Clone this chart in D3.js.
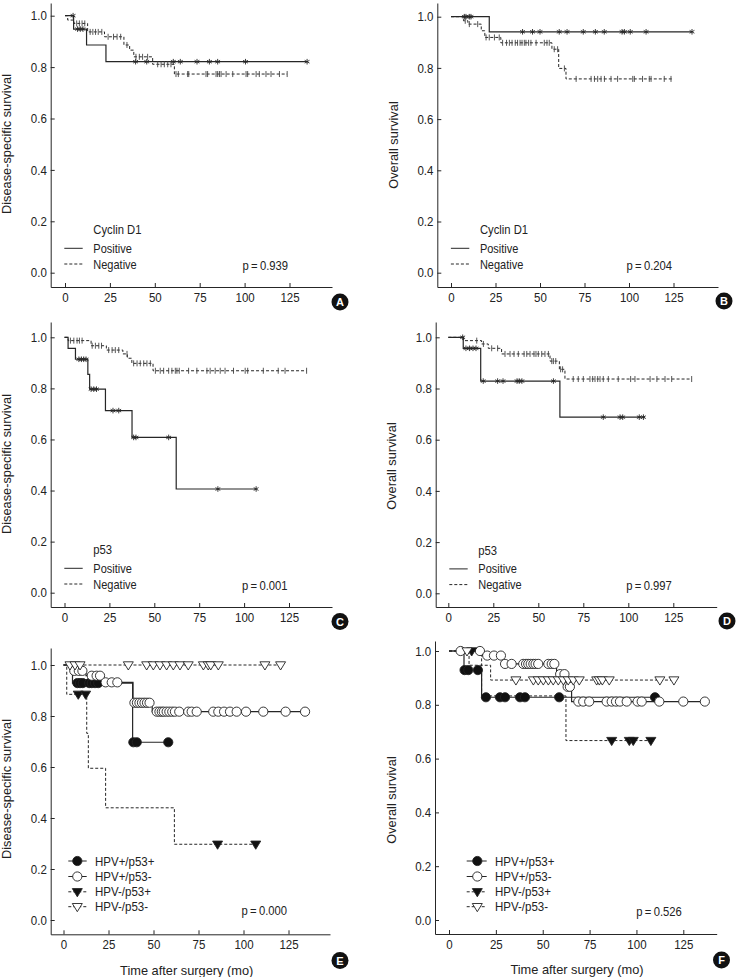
<!DOCTYPE html>
<html><head><meta charset="utf-8">
<script src="https://cdn.jsdelivr.net/npm/d3@7"></script>
<style>
body{margin:0;background:#fff}
svg{display:block}
text{font-family:"Liberation Sans",Arial,Helvetica,sans-serif;fill:#222}
</style></head>
<body><svg id="c" width="738" height="977"></svg>
<script>
// ---------------- DATA ----------------
const xTicks = [0, 25, 50, 75, 100, 125];
const yTicks = [0, 0.2, 0.4, 0.6, 0.8, 1.0];

// Panel A: Cyclin D1, disease-specific survival
const posA_steps = [[0,1],[4.8,0.948],[12,0.886],[22.8,0.821]];
const posA_end = 134.8;
const posA_cens = [4.5,7,8.5,10,39.3,45.5,60.3,64.2,73.5,80.4,85,100.5,134.8];
const negA_steps = [[0,1],[1.5,0.983],[5,0.970],[12.6,0.937],[22,0.918],[32.8,0.886],[36,0.866],[38.3,0.840],[48.8,0.811],[60.9,0.773]];
const negA_end = 123.7;
const negA_cens = [6.5,8,9.5,11,14,15.5,17,18.5,20.5,24,27,29,31,34.5,39.5,41.4,43.2,46,51.6,53.5,55.3,57.2,59,61.8,63.1,68.3,68.9,78.5,79.4,84.1,85,86,86.9,89.7,93.4,100.8,101.7,106.4,108.2,111.9,114.7,119.4,123.7];

// Panel B: Cyclin D1, overall survival
const posB_steps = [[0,1],[21.5,0.941]];
const posB_end = 135.4;
const posB_cens = [7.5,8.4,10.3,11.2,40.2,45.8,50,60.8,65.2,74.3,81.1,86.1,96.1,97.4,100.7,109.6,135.4];
const negB_steps = [[0,1],[7,0.984],[9.5,0.971],[17,0.945],[19,0.919],[28,0.898],[56.7,0.873],[60.5,0.798],[64.6,0.757]];
const negB_end = 124;
const negB_cens = [8,10.3,15,19.7,21.5,24.4,27.1,29,31.2,32.8,34.3,36.1,37.4,38.8,39.9,41.2,42.1,43.6,44.9,47.8,52.4,53.9,55.2,58,59.9,63.7,70.3,78.7,80.6,82.4,84.3,86.2,89.9,93.6,102.1,103,107.6,111.4,112.4,119.8,123.6];

// Panel C: p53, disease-specific survival
const posC_steps = [[0,1],[2,0.957],[6.1,0.914],[13,0.855],[14,0.797],[22.8,0.713],[37.6,0.608],[62.2,0.406]];
const posC_end = 106.7;
const posC_cens = [8,9.4,10.7,12,14.8,16.3,17.8,27,30.2,38.5,39.8,58,85.4,106.7];
const negC_steps = [[0,1],[2,0.987],[14.8,0.967],[23.3,0.950],[32.5,0.935],[35,0.918],[37.5,0.898],[49.3,0.869]];
const negC_end = 134.8;
const negC_cens = [3.3,5.2,7,8.3,9.8,15.4,17.2,19.1,20.6,24.6,26.5,28.3,30.2,34.8,38.5,40.4,42.2,44.1,45.9,47.8,50.6,53.3,55.2,58,59.8,61.7,62.6,63.9,69.1,73.7,79.3,81.1,83.9,86.7,89.4,94.1,100.6,102,110.7,119,122.8,134.8];

// Panel D: p53, overall survival
const posD_steps = [[0,1],[8.3,0.957],[18,0.829],[62,0.688]];
const posD_end = 109.3;
const posD_cens = [8,9.8,11.8,13.7,15.4,19.4,27.4,30.4,38.2,39.4,40.9,58.4,86.1,95.4,96.9,106.1,108.4];
const negD_steps = [[0,1],[8.5,0.987],[18.5,0.974],[22.2,0.957],[29.6,0.935],[56.5,0.907],[61.7,0.875],[64.8,0.837]];
const negD_end = 135.2;
const negD_cens = [15.8,19.5,24.1,27.4,31.5,34.3,36.5,38.9,42.1,43.6,45.4,47.6,48.7,50,51.9,53.7,55.6,57.5,58.4,59.7,62.4,63.5,69.4,72.2,75,78.7,80.2,81.5,83,84.3,86.1,88.9,94.4,101.3,103.7,112.1,115.9,120.4,124.1,135.2];

// Panel E: HPV/p53, disease-specific survival
const e1_steps = [[0,1],[5,0.929],[38.4,0.697]];
const e1_end = 58.2;
const e1_cens = [7.7,9.2,10.7,14.3,15.7,17.5,19.3,38.8,40.7,58.2];
const e2_steps = [[0,1],[4,0.977],[12.5,0.958],[21,0.932],[38.6,0.852],[49.3,0.817]];
const e2_end = 134.2;
const e2_cens = [6,8.5,10.5,15.7,18.4,20.3,23.4,26.8,29.9,39.4,40.8,42.2,43.6,45,46.4,47.8,51.8,53.3,54.6,55.7,57.3,58.8,60.4,61.9,64.3,69.3,71.2,74,83.2,86,89.2,92.5,96.2,101.4,111,123.4,134.2];
const e3_steps = [[0,1],[1.8,0.885],[12.9,0.732],[13.8,0.595],[23.4,0.44],[61.6,0.297]];
const e3_end = 106.8;
const e3_cens = [8.2,12.3,85.6,106.8];
const e4_steps = [[0,1]];
const e4_end = 120.6;
const e4_cens = [3.6,6.4,9.2,36,46.2,49.9,53.6,57.3,61,64.7,69.3,77.7,80.4,81.8,86,111.9,120.6];

// Panel F: HPV/p53, overall survival
const f1_steps = [[0,1],[8,0.929],[17.4,0.828]];
const f1_end = 109.9;
const f1_cens = [8.3,10.3,15.4,19.7,27.2,29.9,37.9,40.5,58.8,109.9];
const f2_steps = [[0,1],[17.5,0.983],[28.6,0.952],[57.4,0.914],[62.8,0.867],[65.4,0.812]];
const f2_end = 136.5;
const f2_cens = [6.2,16.5,20.4,24,27.7,29.9,33.4,39.6,41.1,42.3,43.6,45,46.2,47.6,53,54.8,56.2,59.3,61.6,63.3,64.5,69,71.6,74.8,84.1,86.8,89.1,91.2,94.8,100.6,102.8,112.2,125,136.5];
const f3_steps = [[0,1],[17.4,0.833],[62.4,0.667]];
const f3_end = 107.7;
const f3_cens = [12.1,86.8,96.2,98.3,107.7];
const f4_steps = [[0,1],[10.7,0.947],[22.2,0.892]];
const f4_end = 120;
const f4_cens = [9.6,35.7,45,47.6,50.3,53,55.6,58.3,61,63.6,66.3,69.5,78.8,80.2,81.8,85.5,112.5,120];

const pValues = ["0.939","0.204","0.001","0.997","0.000","0.526"];
const groupNames2 = ["Positive","Negative"];
const groupNames4 = ["HPV+/p53+","HPV+/p53-","HPV-/p53+","HPV-/p53-"];

// ---------------- LAYOUT ----------------
const svg = d3.select('#c');
const INK = '#262626';

const panels = [
 {L:'A', ylab:'Disease-specific survival', axisX:50.7, axisEnd:332, top:3, axisY:287, x0:65, x125:289.5, y0:272.7, y1:15.7, badge:[340,302], yl:144,
  legTitle:'Cyclin D1', p:pValues[0], pdy:3.2,
  series:[{s:posA_steps,e:posA_end,c:posA_cens,dash:false,m:'star'},{s:negA_steps,e:negA_end,c:negA_cens,dash:true,m:'tick'}]},
 {L:'B', ylab:'Overall survival', axisX:437.3, axisEnd:718, top:3, axisY:287, x0:451, x125:673.5, y0:272.7, y1:16.7, badge:[724,301], yl:145,
  legTitle:'Cyclin D1', p:pValues[1], pdy:3.2,
  series:[{s:posB_steps,e:posB_end,c:posB_cens,dash:false,m:'star'},{s:negB_steps,e:negB_end,c:negB_cens,dash:true,m:'tick'}]},
 {L:'C', ylab:'Disease-specific survival', axisX:50.7, axisEnd:332, top:322, axisY:607, x0:64.5, x125:289, y0:592.7, y1:337.3, badge:[340,621.5], yl:464,
  legTitle:'p53', p:pValues[2], pdy:3.2,
  series:[{s:posC_steps,e:posC_end,c:posC_cens,dash:false,m:'star'},{s:negC_steps,e:negC_end,c:negC_cens,dash:true,m:'tick'}]},
 {L:'D', ylab:'Overall survival', axisX:435.7, axisEnd:716.7, top:322, axisY:607, x0:448.3, x125:673.3, y0:593.3, y1:337.3, badge:[727,621], yl:466,
  legTitle:'p53', p:pValues[3], pdy:3.2,
  series:[{s:posD_steps,e:posD_end,c:posD_cens,dash:false,m:'star'},{s:negD_steps,e:negD_end,c:negD_cens,dash:true,m:'tick'}]},
 {L:'E', ylab:'Disease-specific survival', axisX:50.7, axisEnd:330, top:648, axisY:934.3, x0:63.5, x125:288.5, y0:920, y1:665, badge:[340,960.5], yl:789,
  four:true, legX:[68.3,86.7,77.3,95], p:pValues[4], pdy:4.8, xtitle:[186.7,974.5],
  series:[{s:e1_steps,e:e1_end,c:e1_cens,dash:false,m:'circF'},{s:e2_steps,e:e2_end,c:e2_cens,dash:false,m:'circO'},
          {s:e3_steps,e:e3_end,c:e3_cens,dash:true,m:'triF'},{s:e4_steps,e:e4_end,c:e4_cens,dash:true,m:'triO'}]},
 {L:'F', ylab:'Overall survival', axisX:435, axisEnd:716.7, top:641, axisY:934, x0:449, x125:683.3, y0:920, y1:651, badge:[721.5,960], yl:800,
  four:true, legX:[466.7,486.7,477.3,495], p:pValues[5], pdy:3.8, xtitle:[577,973.5],
  series:[{s:f1_steps,e:f1_end,c:f1_cens,dash:false,m:'circF'},{s:f2_steps,e:f2_end,c:f2_cens,dash:false,m:'circO'},
          {s:f3_steps,e:f3_end,c:f3_cens,dash:true,m:'triF'},{s:f4_steps,e:f4_end,c:f4_cens,dash:true,m:'triO'}]}
];

function sAt(steps, t){ let s = steps[0][1]; for (const d of steps) if (d[0] <= t) s = d[1]; return s; }

// narrow-looking text: regular face, compressed horizontally
function ntext(g, x, y, str, size, sx, anchor){
  return g.append('text').attr('transform',`translate(${x},${y}) scale(${sx},1)`)
    .attr('text-anchor', anchor || 'start').attr('font-size', size).text(str);
}

function drawMark(g, type, cx, cy){
  if (type === 'star'){
    const a = 2.8, dx = 2.4, dy = 1.4;
    [[0,-a,0,a],[-dx,-dy,dx,dy],[-dx,dy,dx,-dy]].forEach(l=>{
      g.append('line').attr('x1',cx+l[0]).attr('y1',cy+l[1]).attr('x2',cx+l[2]).attr('y2',cy+l[3])
       .attr('stroke',INK).attr('stroke-width',0.9);
    });
  } else if (type === 'tick'){
    g.append('line').attr('x1',cx).attr('x2',cx).attr('y1',cy-3).attr('y2',cy+3)
     .attr('stroke','#444').attr('stroke-width',0.9);
  } else if (type === 'circF' || type === 'circO'){
    g.append('circle').attr('cx',cx).attr('cy',cy).attr('r',4.6)
     .attr('fill', type==='circF' ? '#111' : '#fff').attr('stroke','#222').attr('stroke-width',0.9);
  } else {
    g.append('path').attr('d',`M${cx-5},${cy-3.2}L${cx+5},${cy-3.2}L${cx},${cy+5}Z`)
     .attr('fill', type==='triF' ? '#111' : '#fff').attr('stroke','#222').attr('stroke-width',0.9)
     .attr('stroke-linejoin','round');
  }
}

panels.forEach(P=>{
  const g = svg.append('g');
  const x = d3.scaleLinear().domain([0,125]).range([P.x0, P.x125]);
  const y = d3.scaleLinear().domain([0,1]).range([P.y0, P.y1]);
  const xA = d3.scaleLinear().domain([x.invert(P.axisX), x.invert(P.axisEnd)]).range([P.axisX, P.axisEnd]);
  const yA = d3.scaleLinear().domain([y.invert(P.axisY), y.invert(P.top)]).range([P.axisY, P.top]);

  const gx = g.append('g').attr('transform',`translate(0,${P.axisY})`)
    .call(d3.axisBottom(xA).tickValues(xTicks).tickSize(-4).tickSizeOuter(0).tickPadding(6).tickFormat(d3.format('d')));
  const gy = g.append('g').attr('transform',`translate(${P.axisX},0)`)
    .call(d3.axisLeft(yA).tickValues(yTicks).tickSize(-4).tickSizeOuter(0).tickPadding(4.3).tickFormat(d3.format('.1f')));
  [gx,gy].forEach(a=>{
    a.selectAll('path,line').attr('stroke',INK).attr('stroke-width',1);
    a.selectAll('text').attr('font-size',12.8).attr('fill','#222')
      .attr('transform','scale(0.9,1)')
      .style('font-family','"Liberation Sans",Arial,sans-serif');
  });

  // y label
  g.append('text').attr('transform',`translate(${P.axisX-39.5},${P.yl}) rotate(-90)`)
   .attr('text-anchor','middle').attr('font-size',12.8).text(P.ylab);

  const line = d3.line().x(d=>x(d[0])).y(d=>y(d[1])).curve(d3.curveStepAfter);
  P.series.forEach(S=>{
    const pts = S.s.concat([[S.e, S.s[S.s.length-1][1]]]);
    g.append('path').attr('d', line(pts)).attr('fill','none').attr('stroke',INK)
     .attr('stroke-width', S.dash ? 1 : 1.2).attr('stroke-dasharray', S.dash ? '3,2' : null);
  });
  P.series.forEach(S=>{
    S.c.forEach(t=> drawMark(g, S.m, x(t), y(sAt(S.s, t))));
  });

  // legend
  if (!P.four){
    const lx = P.axisX + 42.6;
    ntext(g, lx, P.y0-38.3, P.legTitle, 12.8, 0.88);
    [0,1].forEach(i=>{
      const yy = P.y0 - (i===0 ? 24.4 : 8.7);
      g.append('line').attr('x1',P.axisX+13.6).attr('x2',P.axisX+32).attr('y1',yy).attr('y2',yy)
       .attr('stroke',INK).attr('stroke-width',1).attr('stroke-dasharray', i===1 ? '3,2' : null);
      ntext(g, lx, yy+4.5, groupNames2[i], 12.8, 0.86);
    });
  } else {
    const rows = [-59,-43.5,-28.2,-13.3];
    groupNames4.forEach((nm,i)=>{
      const yy = P.y0 + rows[i];
      const S = P.series[i];
      g.append('line').attr('x1',P.legX[0]).attr('x2',P.legX[1]).attr('y1',yy).attr('y2',yy)
       .attr('stroke',INK).attr('stroke-width',1).attr('stroke-dasharray', S.dash ? '3,2' : null);
      drawMark(g, S.m, P.legX[2], yy);
      ntext(g, P.legX[3], yy+4.5, nm, 12.8, 0.9);
    });
    g.append('text').attr('x',P.xtitle[0]).attr('y',P.xtitle[1]).attr('text-anchor','middle')
     .attr('font-size',12.8).text('Time after surgery (mo)');
  }
  ntext(g, P.x125-1.5, P.y0-P.pdy, 'p\u2009=\u2009' + P.p, 12.5, 0.9, 'end');

  // badge
  g.append('circle').attr('cx',P.badge[0]).attr('cy',P.badge[1]).attr('r',8.5).attr('fill','#111');
  g.append('text').attr('x',P.badge[0]).attr('y',P.badge[1]+4).attr('text-anchor','middle')
   .attr('font-size',11).attr('font-weight','bold').style('fill','#fff').text(P.L);
});
</script></body></html>
